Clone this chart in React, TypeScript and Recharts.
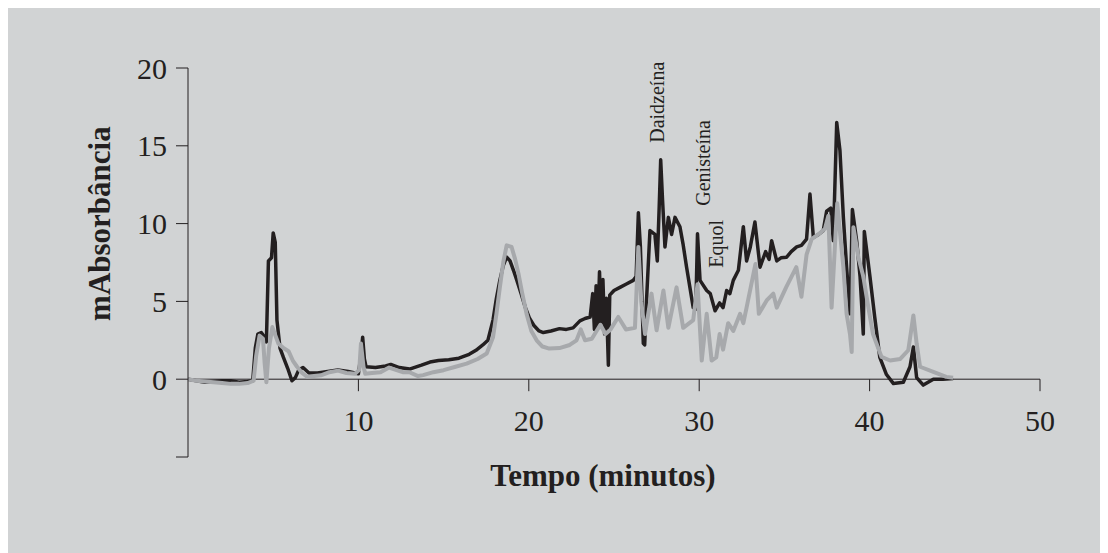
import { LineChart, Line, XAxis, YAxis, ReferenceLine, ReferenceDot } from 'recharts';

// black trace (time in minutes, absorbance)
const blackTime = [
  0, 0.5, 1.0, 1.5, 2.0, 2.5, 3.0, 3.5, 3.8, 3.95, 4.1, 4.3, 4.5, 4.6, 4.72, 4.9, 5.0, 5.12, 5.22, 5.4,
  5.6, 5.85, 6.1, 6.3, 6.5, 6.75, 7.1, 7.6, 8.2, 8.8, 9.4, 10.0, 10.15, 10.25, 10.35, 10.45, 11.0, 11.6, 11.9, 12.4,
  13.0, 13.7, 14.2, 14.7, 15.3, 15.9, 16.5, 16.9, 17.3, 17.6, 17.9, 18.1, 18.3, 18.5, 18.7, 18.9, 19.1, 19.3, 19.55, 19.8,
  20.05, 20.3, 20.6, 20.85, 21.3, 21.8, 22.2, 22.6, 23.0, 23.3, 23.6, 23.75, 23.85, 23.95, 24.05, 24.15, 24.25, 24.35, 24.45, 24.55,
  24.67, 24.75, 25.0, 25.35, 25.7, 26.13, 26.3, 26.43, 26.55, 26.72, 26.8, 26.91, 27.11, 27.4, 27.54, 27.65, 27.74, 27.85, 27.99, 28.19,
  28.38, 28.58, 28.87, 29.05, 29.26, 29.65, 29.8, 29.9, 30.05, 30.44, 30.65, 30.93, 31.2, 31.4, 31.61, 31.8, 32.0, 32.3, 32.59, 32.78,
  33.0, 33.27, 33.57, 33.9, 34.1, 34.25, 34.55, 34.8, 35.13, 35.4, 35.72, 36.0, 36.3, 36.5, 36.7, 37.0, 37.28, 37.48, 37.72, 37.87,
  38.07, 38.26, 38.46, 38.65, 38.85, 38.99, 39.24, 39.44, 39.63, 39.69, 40.02, 40.3, 40.6, 40.99, 41.4, 41.98, 42.37, 42.57, 42.76, 43.15,
  43.74, 44.3, 44.9,
];
const blackValues = [
  0, -0.1, -0.2, -0.15, -0.1, -0.1, -0.2, -0.15, -0.1, 2.0, 2.9, 3.0, 2.7, 2.4, 7.6, 7.8, 9.4, 8.8, 3.8, 2.0,
  1.4, 0.7, -0.1, 0.1, 0.6, 0.75, 0.4, 0.4, 0.5, 0.6, 0.5, 0.35, 1.5, 2.7, 1.3, 0.8, 0.75, 0.85, 0.95, 0.75,
  0.65, 0.9, 1.1, 1.2, 1.25, 1.35, 1.6, 1.86, 2.2, 2.5, 3.8, 5.2, 6.35, 7.3, 7.85, 7.6, 7.0, 6.35, 5.5, 4.6,
  3.9, 3.45, 3.1, 3.0, 3.1, 3.25, 3.2, 3.3, 3.75, 3.9, 4.0, 5.5, 3.2, 6.0, 3.3, 6.9, 3.6, 6.4, 2.9, 5.2,
  0.9, 5.4, 5.7, 5.9, 6.1, 6.35, 6.6, 10.7, 8.5, 2.3, 2.2, 5.1, 9.55, 9.3, 7.6, 11.0, 14.1, 11.5, 8.5, 10.4,
  9.3, 10.4, 9.8, 8.7, 7.2, 4.6, 4.5, 9.34, 6.35, 5.7, 5.5, 4.4, 4.9, 4.6, 5.7, 5.5, 6.35, 7.0, 9.8, 7.6,
  8.5, 10.1, 7.2, 8.2, 7.7, 8.9, 7.6, 7.8, 7.84, 8.2, 8.5, 8.6, 9.0, 11.9, 9.1, 9.3, 9.55, 10.8, 11.0, 8.9,
  16.5, 14.7, 10.4, 7.2, 4.2, 10.9, 8.9, 6.6, 2.9, 9.5, 6.6, 4.0, 1.4, 0.3, -0.28, -0.2, 0.8, 2.07, 0.1, -0.38,
  0.0, 0.0, 0.05,
];

// gray trace
const grayTime = [
  0, 0.5, 1.0, 1.5, 2.0, 2.5, 3.0, 3.5, 3.85, 4.0, 4.2, 4.4, 4.5, 4.6, 4.75, 4.95, 5.1, 5.3, 5.6, 5.9,
  6.15, 6.4, 6.7, 7.0, 7.4, 7.8, 8.3, 8.8, 9.3, 9.8, 10.05, 10.15, 10.3, 10.4, 10.8, 11.3, 11.8, 12.2, 12.6, 13.0,
  13.5, 13.8, 14.4, 15.0, 15.7, 16.35, 17.0, 17.53, 17.9, 18.1, 18.3, 18.5, 18.7, 18.99, 19.2, 19.39, 19.6, 19.87, 20.15, 20.46,
  20.8, 21.2, 21.8, 22.4, 22.8, 23.05, 23.3, 23.7, 24.2, 24.5, 24.8, 25.25, 25.7, 26.23, 26.43, 26.6, 26.82, 27.2, 27.5, 27.9,
  28.19, 28.67, 29.06, 29.65, 29.9, 30.15, 30.44, 30.73, 31.0, 31.2, 31.4, 31.7, 32.0, 32.4, 32.59, 32.78, 33.3, 33.5, 33.96, 34.35,
  34.55, 35.1, 35.7, 36.0, 36.3, 36.6, 37.1, 37.38, 37.58, 37.77, 38.1, 38.46, 38.65, 38.85, 38.95, 39.05, 39.34, 39.63, 39.93, 40.2,
  40.7, 41.2, 41.8, 42.27, 42.57, 42.76, 42.96, 43.74, 44.5, 44.9,
];
const grayValues = [
  0, -0.1, -0.15, -0.2, -0.25, -0.3, -0.3, -0.25, -0.1, 1.5, 2.8, 2.6, 1.0, -0.2, 2.0, 3.35, 2.9, 2.3, 2.0, 1.8,
  1.2, 0.8, 0.4, 0.15, 0.2, 0.25, 0.45, 0.55, 0.4, 0.35, 0.6, 2.3, 0.8, 0.35, 0.4, 0.45, 0.75, 0.6, 0.45, 0.45,
  0.2, 0.26, 0.45, 0.58, 0.8, 1.0, 1.3, 1.65, 2.7, 4.2, 5.9, 7.5, 8.6, 8.5, 7.7, 6.8, 5.6, 4.2, 3.1, 2.5,
  2.1, 1.97, 2.0, 2.2, 2.5, 3.2, 2.5, 2.6, 3.5, 2.9, 3.2, 4.0, 3.2, 3.3, 8.5, 5.0, 2.9, 5.5, 3.14, 5.7,
  3.3, 5.9, 3.3, 3.8, 6.1, 1.2, 4.2, 1.2, 1.4, 2.9, 1.9, 3.6, 3.1, 4.2, 3.6, 4.6, 7.4, 4.2, 5.06, 5.5,
  4.6, 5.9, 7.2, 5.3, 8.0, 9.0, 9.4, 9.67, 10.5, 4.6, 11.3, 7.2, 4.2, 2.9, 1.75, 9.76, 7.84, 6.6, 4.6, 2.9,
  1.43, 1.2, 1.3, 1.86, 4.1, 2.3, 0.8, 0.47, 0.15, 0.1,
];

const xTicks = [10, 20, 30, 40, 50];
const yTicks = [-5, 0, 5, 10, 15, 20];

// peak annotations
const peakNames = ['Daidzeína', 'Genisteína', 'Equol'];
const peakTimes = [27.5, 30.2, 31.0];
const peakHeights = [17.8, 13.9, 8.7];

const blackData = blackTime.map((t, i) => ({ t, v: blackValues[i] }));
const grayData = grayTime.map((t, i) => ({ t, v: grayValues[i] }));
const peaks = peakNames.map((name, i) => ({ name, t: peakTimes[i], v: peakHeights[i] }));

const W = 1100;
const H = 545;
const PLOT_TOP = 60;
const PLOT_LEFT = 180;
const PLOT_RIGHT = 68;
const X_AXIS_H = 96;
const PLOT_H = H - PLOT_TOP - X_AXIS_H;
const Y_MIN = -5;
const Y_MAX = 20;
const ZERO_Y = PLOT_TOP + (PLOT_H * (Y_MAX - 0)) / (Y_MAX - Y_MIN);

const INK = '#231f20';
const SERIF = '"Liberation Serif", "Times New Roman", serif';

function XTick(props: any) {
  const { x, payload } = props;
  return (
    <g>
      <line x1={x} x2={x} y1={ZERO_Y} y2={ZERO_Y + 12} stroke={INK} strokeWidth={1} />
      <text x={x} y={ZERO_Y + 52} textAnchor="middle" fontSize={30} fontFamily={SERIF} fill={INK}>
        {payload.value}
      </text>
    </g>
  );
}

export default function App() {
  return (
    <div style={{ width: W, height: H, background: '#d1d3d4' }}>
      <LineChart width={W} height={H} margin={{ top: PLOT_TOP, right: PLOT_RIGHT, bottom: 0, left: 0 }}>
        <XAxis
          type="number"
          dataKey="t"
          domain={[0, 50]}
          ticks={xTicks}
          allowDataOverflow
          axisLine={false}
          tickLine={false}
          tickSize={0}
          tickMargin={0}
          height={X_AXIS_H}
          tick={(p: any) => <XTick {...p} />}
          label={() => (
            <text x={595} y={478} textAnchor="middle" fontSize={31} fontWeight="bold" fontFamily={SERIF} fill={INK}>
              Tempo (minutos)
            </text>
          )}
        />
        <YAxis
          type="number"
          domain={[Y_MIN, Y_MAX]}
          ticks={yTicks}
          width={PLOT_LEFT}
          tickSize={12}
          tickMargin={9}
          axisLine={{ stroke: INK, strokeWidth: 1 }}
          tickLine={{ stroke: INK, strokeWidth: 1 }}
          tickFormatter={(v: number) => (v === -5 ? '' : String(v))}
          tick={{ fontSize: 30, fontFamily: SERIF, fill: INK }}
          label={() => (
            <text
              x={92}
              y={(PLOT_TOP + ZERO_Y) / 2}
              transform={`rotate(-90 92 ${(PLOT_TOP + ZERO_Y) / 2})`}
              textAnchor="middle"
              dominantBaseline="central"
              fontSize={31}
              fontWeight="bold"
              fontFamily={SERIF}
              fill={INK}
            >
              mAbsorbância
            </text>
          )}
        />
        <ReferenceLine y={0} stroke={INK} strokeWidth={1} />
        <Line
          data={blackData}
          dataKey="v"
          type="linear"
          stroke={INK}
          strokeWidth={3.5}
          strokeLinejoin="round"
          dot={false}
          activeDot={false}
          isAnimationActive={false}
        />
        <Line
          data={grayData}
          dataKey="v"
          type="linear"
          stroke="#a7a9ac"
          strokeWidth={4}
          strokeLinejoin="round"
          dot={false}
          activeDot={false}
          isAnimationActive={false}
        />
        {peaks.map((p) => (
          <ReferenceDot
            key={p.name}
            x={p.t}
            y={p.v}
            r={1}
            fill="none"
            stroke="none"
            label={(lp: any) => {
              const cx = lp.viewBox.x + lp.viewBox.width / 2;
              const cy = lp.viewBox.y + lp.viewBox.height / 2;
              return (
                <text
                  x={cx}
                  y={cy}
                  transform={`rotate(-90 ${cx} ${cy})`}
                  textAnchor="middle"
                  dominantBaseline="central"
                  fontSize={20}
                  fontFamily={SERIF}
                  fill={INK}
                >
                  {p.name}
                </text>
              );
            }}
          />
        ))}
      </LineChart>
    </div>
  );
}
